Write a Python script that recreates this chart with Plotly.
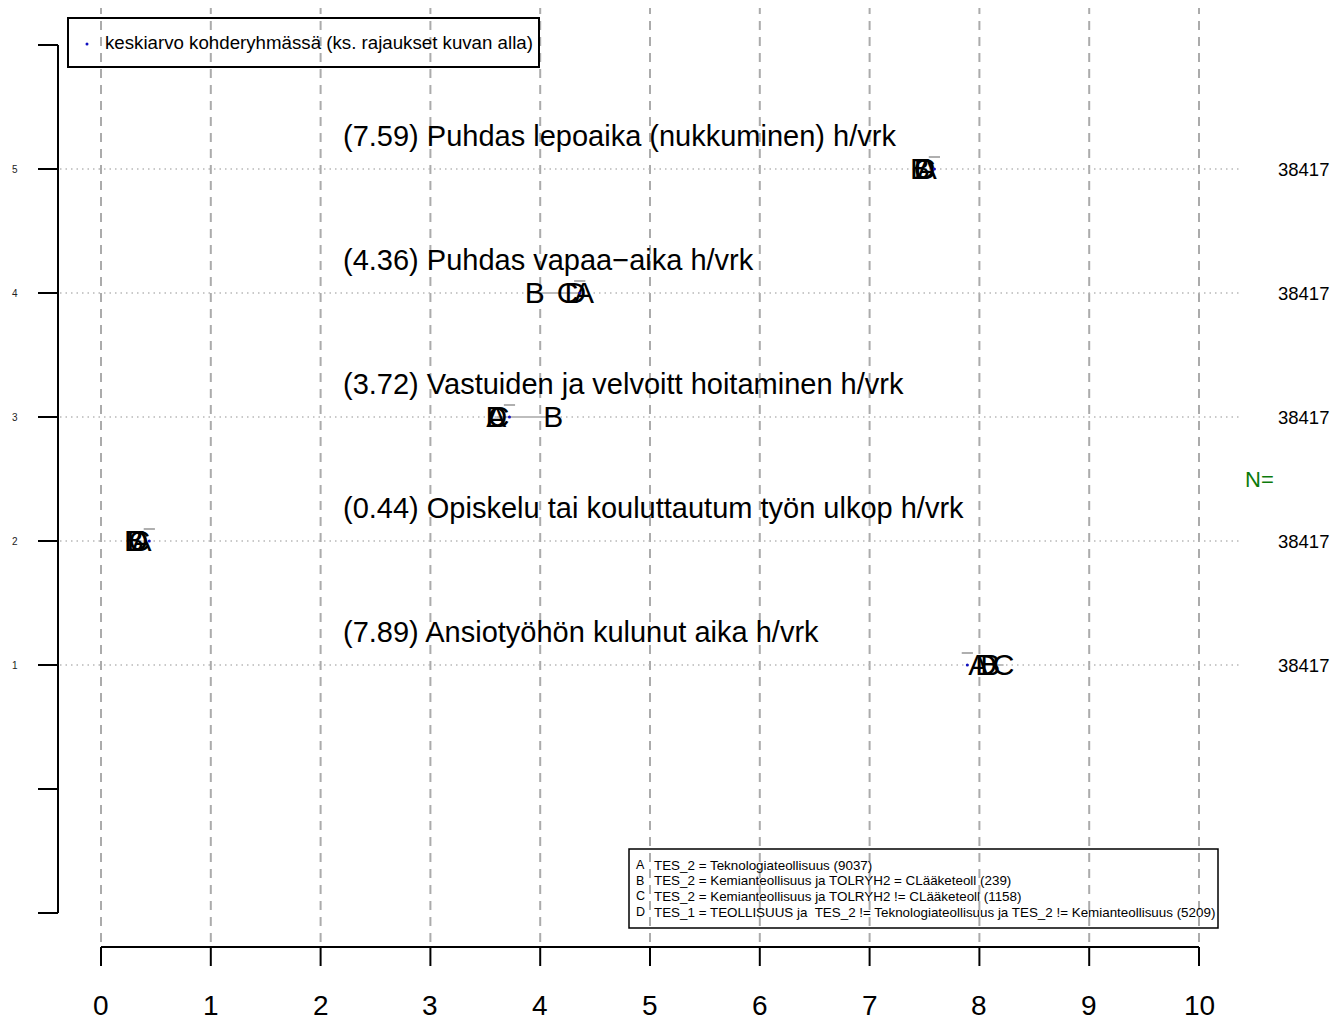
import plotly.graph_objects as go

# ---------------- data ----------------
categories = [
    "Ansiotyöhön kulunut aika h/vrk",
    "Opiskelu tai kouluttautum työn ulkop h/vrk",
    "Vastuiden ja velvoitt hoitaminen h/vrk",
    "Puhdas vapaa−aika h/vrk",
    "Puhdas lepoaika (nukkuminen) h/vrk",
]
row_pos = [1, 2, 3, 4, 5]
means = [7.89, 0.44, 3.72, 4.36, 7.59]
group_A = [7.99, 0.37, 3.60, 4.40, 7.52]
group_B = [8.10, 0.30, 4.12, 3.95, 7.46]
group_C = [8.22, 0.35, 3.62, 4.25, 7.50]
group_D = [8.06, 0.33, 3.60, 4.32, 7.50]
n_values = [38417, 38417, 38417, 38417, 38417]
group_letters = ["A", "B", "C", "D"]
group_descr = [
    "TES_2 = Teknologiateollisuus (9037)",
    "TES_2 = Kemianteollisuus ja TOLRYH2 = CLääketeoll (239)",
    "TES_2 = Kemianteollisuus ja TOLRYH2 != CLääketeoll (1158)",
    "TES_1 = TEOLLISUUS ja  TES_2 != Teknologiateollisuus ja TES_2 != Kemianteollisuus (5209)",
]
x_ticks = list(range(0, 11))
y_ticks = [-1, 0, 1, 2, 3, 4, 5, 6]
y_tick_labels = ["", "", "1", "2", "3", "4", "5", ""]
legend_top_text = "keskiarvo kohderyhmässä (ks. rajaukset kuvan alla)"

# ---------------- geometry helpers ----------------
OFF = 8  # page body margin
W, H = 1341, 1020
X0PX, XUNIT = 101, 109.8      # screen px of x=0, px per unit
Y1PX, YUNIT = 665, 124        # screen px of y=1, px per unit
FONT = "Liberation Sans, Arial, Helvetica, sans-serif"


def px2x(p):
    return (p - X0PX) / XUNIT


def px2y(p):
    return 1 + (Y1PX - p) / YUNIT


def fx(p):
    return (p - OFF) / W


def fy(p):
    return 1 - (p - OFF) / H


fig = go.Figure()
shapes = []
annotations = []

# vertical dashed grid lines
for v in x_ticks:
    shapes.append(dict(type="line", xref="x", yref="y", x0=v, x1=v,
                       y0=px2y(942), y1=px2y(OFF), layer="below",
                       line=dict(color="#ABABAB", width=2, dash="9px,7px")))

# horizontal dotted lines per row
for r in row_pos:
    shapes.append(dict(type="line", xref="x", yref="y", x0=px2x(60), x1=px2x(1240),
                       y0=r, y1=r, layer="below",
                       line=dict(color="#B8B8B8", width=1.3, dash="1.5px,4px")))

# y axis
shapes.append(dict(type="line", xref="x", yref="y", x0=px2x(58), x1=px2x(58),
                   y0=y_ticks[0], y1=y_ticks[-1], line=dict(color="black", width=2)))
for yv, lab in zip(y_ticks, y_tick_labels):
    shapes.append(dict(type="line", xref="x", yref="y", x0=px2x(38), x1=px2x(58),
                       y0=yv, y1=yv, line=dict(color="black", width=2)))
    if lab:
        annotations.append(dict(x=px2x(15), y=yv, xref="x", yref="y", text=lab,
                                showarrow=False, xanchor="center", yanchor="middle",
                                font=dict(family=FONT, size=10, color="#222")))

# x axis
shapes.append(dict(type="line", xref="x", yref="y", x0=x_ticks[0], x1=x_ticks[-1],
                   y0=px2y(947), y1=px2y(947), line=dict(color="black", width=2)))
for xv in x_ticks:
    shapes.append(dict(type="line", xref="x", yref="y", x0=xv, x1=xv,
                       y0=px2y(947), y1=px2y(966), line=dict(color="black", width=2)))
    annotations.append(dict(x=xv, y=px2y(1005), xref="x", yref="y", text=str(xv),
                            showarrow=False, xanchor="center", yanchor="middle",
                            font=dict(family=FONT, size=28, color="black")))

# row labels
for r, m, c in zip(row_pos, means, categories):
    annotations.append(dict(x=px2x(341), y=r + 33 / YUNIT, xref="x", yref="y",
                            text=f"({m:.2f}) {c}", showarrow=False,
                            xanchor="left", yanchor="middle",
                            font=dict(family=FONT, size=29, color="black")))

# N values
for r, n in zip(row_pos, n_values):
    annotations.append(dict(x=px2x(1331), y=r, xref="x", yref="y", text=str(n),
                            showarrow=False, xanchor="right", yanchor="middle",
                            font=dict(family=FONT, size=18.5, color="black")))
annotations.append(dict(x=px2x(1259), y=2.5, xref="x", yref="y", text="N=",
                        showarrow=False, xanchor="center", yanchor="middle",
                        font=dict(family=FONT, size=22, color="#0B7A0B")))

# range lines (gray) between group means
groups = [group_A, group_B, group_C, group_D]
for i, r in enumerate(row_pos):
    vals = [g[i] for g in groups]
    fig.add_trace(go.Scatter(x=[min(vals), max(vals)], y=[r, r], mode="lines",
                             line=dict(color="#BDBDBD", width=2),
                             hoverinfo="skip", showlegend=False))

# gray mean tick above each row
fig.add_trace(go.Scatter(x=means, y=[r + 12 / YUNIT for r in row_pos], mode="markers",
                         marker=dict(symbol="line-ew", size=8,
                                     line=dict(color="#AFAFAF", width=2)),
                         hoverinfo="skip", showlegend=False))

# group letters
letter_shift = 2 / YUNIT
for letter, g in zip(group_letters, groups):
    fig.add_trace(go.Scatter(x=g, y=[r - letter_shift for r in row_pos], mode="text",
                             text=[letter] * len(g),
                             textposition="middle center",
                             textfont=dict(family=FONT, size=30, color="black"),
                             hoverinfo="skip", showlegend=False))

# mean dots (blue)
fig.add_trace(go.Scatter(x=means, y=row_pos, mode="markers",
                         marker=dict(size=3, color="#1010C0"),
                         hoverinfo="skip", showlegend=False))

# top legend box
shapes.append(dict(type="rect", xref="paper", yref="paper",
                   x0=fx(68), x1=fx(539), y0=fy(67), y1=fy(18),
                   line=dict(color="black", width=2)))
fig.add_trace(go.Scatter(x=[px2x(87)], y=[px2y(44)], mode="markers",
                         marker=dict(size=3, color="#1010C0"),
                         hoverinfo="skip", showlegend=False))
annotations.append(dict(x=fx(103), y=fy(43), xref="paper", yref="paper",
                        text=legend_top_text, showarrow=False,
                        xanchor="left", yanchor="middle",
                        font=dict(family=FONT, size=18.7, color="black")))

# bottom legend box
shapes.append(dict(type="rect", xref="paper", yref="paper",
                   x0=fx(629), x1=fx(1218), y0=fy(928), y1=fy(849),
                   line=dict(color="black", width=1.5)))
for i, (letter, d) in enumerate(zip(group_letters, group_descr)):
    ypx = 865 + i * 15.7
    annotations.append(dict(x=fx(640), y=fy(ypx), xref="paper", yref="paper",
                            text=letter, showarrow=False, xanchor="center",
                            yanchor="middle",
                            font=dict(family=FONT, size=12.5, color="black")))
    annotations.append(dict(x=fx(652), y=fy(ypx), xref="paper", yref="paper",
                            text=d, showarrow=False, xanchor="left",
                            yanchor="middle",
                            font=dict(family=FONT, size=13.4, color="black")))

fig.update_layout(
    width=W, height=H,
    margin=dict(l=0, r=0, t=0, b=0),
    paper_bgcolor="white", plot_bgcolor="white",
    xaxis=dict(range=[px2x(OFF), px2x(OFF + W)], visible=False, fixedrange=True),
    yaxis=dict(range=[px2y(OFF + H), px2y(OFF)], visible=False, fixedrange=True),
    shapes=shapes, annotations=annotations, showlegend=False,
)

fig.write_html("out.html")
